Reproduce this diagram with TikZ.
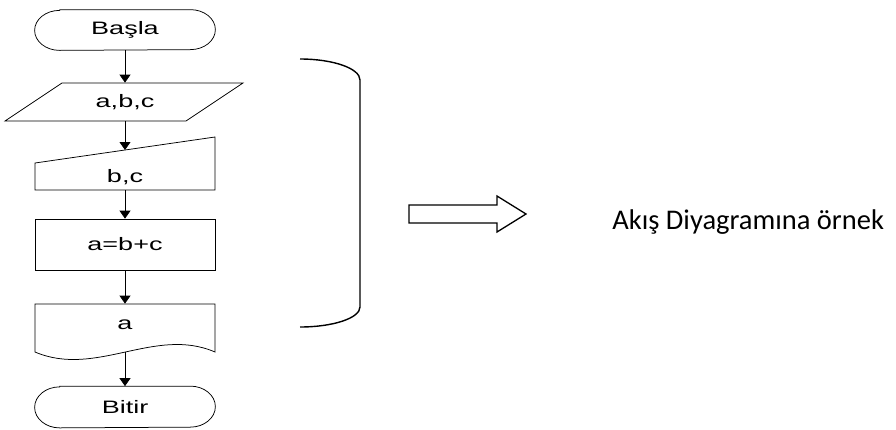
\documentclass[tikz,border=0pt]{standalone}
\usepackage{fontspec}
\setmainfont{Carlito}
\newfontfamily\chartfont[FakeStretch=1.5]{Liberation Sans}
\usetikzlibrary{arrows.meta,calc}

\begin{document}
\begin{tikzpicture}[x=1pt, y=-1pt, line width=0.75pt,
	box/.style={minimum width=180pt, minimum height=#1, inner sep=0pt, font=\chartfont\fontsize{18}{20}\selectfont},
	flow/.style={-{Triangle[length=8pt, width=11pt]}}]

\useasboundingbox (0,0) rectangle (896,429);

\newcounter{size}
\newcommand\polyg[2]{
	\setcounter{size}{0}
	\foreach \point [count=\i] in #2 {
		\stepcounter{size}
		\node[coordinate] (#1-\i) at \point {};
	}
	\draw (#1-1) \foreach \i in {2, ..., \value{size}} {-- (#1-\i)} -- cycle;
}

\newcommand\terminal[4]{
	\node[box=#3] (#1) at (125, #2) {#4};
	\draw ([xshift=25pt]#1.north west) -- ([xshift=-25pt]#1.north east)
		arc[start angle=90, end angle=-90, x radius=25pt, y radius=#3/2]
		-- ([xshift=25pt]#1.south west)
		arc[start angle=270, end angle=90, x radius=25pt, y radius=#3/2] -- cycle;
}

% flowchart
\terminal{basla}{30}{40pt}{Başla}

\node[box=38pt] (abc) at (125, 102) {a,b,c};
\polyg{abc}{{(62, 83), (243, 83), (186, 121), (5, 121)}};

\node[box=26pt] (bc) at (125, 177) {b,c};
\polyg{bc}{{(35, 163), (215, 137), (215, 190), (35, 190)}};
\coordinate (bc-top) at ($(bc-1)!0.5!(bc-2)$);

\node[box=51pt, draw] (calc) at (125, 244.5) {a=b+c};

\node[box=42pt] (out) at (125, 325) {a};
\draw (35, 304) -- (215, 304) -- (215, 352)
	.. controls (155, 326) and (96, 378) .. (35, 352) -- cycle;
\coordinate (out-bot) at (125, 352);

\terminal{bitir}{407}{41pt}{Bitir}

\draw[flow] (basla) -- (abc);
\draw[flow] (abc) -- (bc-top);
\draw[flow] (bc) -- (calc);
\draw[flow] (calc) -- (out);
\draw[flow] (out-bot) -- (bitir);

% brace and arrow
\draw[line width=1.4pt] (300, 59) arc[start angle=90, end angle=0, x radius=60pt, y radius=21pt]
	-- (360, 307) arc[start angle=0, end angle=-90, x radius=60pt, y radius=20pt];

\begin{scope}[line width=1.3pt]
\polyg{big}{{(409, 205), (497, 205), (497, 196), (526, 214), (497, 232), (497, 223), (409, 223)}};
\end{scope}

\node[anchor=base west, inner sep=0pt, font=\fontsize{28.5}{32}\selectfont] (note) at (612, 229) {Akış Diyagramına örnek};

\end{tikzpicture}
\end{document}
